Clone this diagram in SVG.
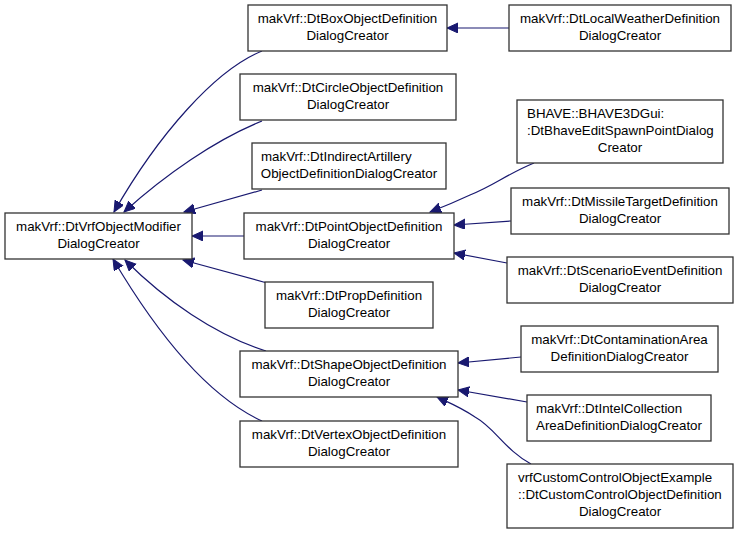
<svg xmlns="http://www.w3.org/2000/svg" width="739" height="535" viewBox="0 0 739 535">
<defs>
<marker id="arr" markerUnits="userSpaceOnUse" markerWidth="12" markerHeight="11" refX="11" refY="5" orient="auto">
<path d="M0,0 L11,5 L0,10 z" fill="#191970" stroke="#191970" stroke-width="1"/>
</marker>
<style>
rect{fill:#fff;stroke:#333;stroke-width:1.3}
text{font-family:"Liberation Sans",Arial,sans-serif;font-size:13.33px;fill:#000}
.m{text-anchor:middle}
.s{text-anchor:start}
#edges path{fill:none;stroke:#191970;stroke-width:1.2;marker-end:url(#arr)}
</style>
</defs>
<rect x="0" y="0" width="739" height="535" style="fill:#fff;stroke:none"/>
<g id="edges">
<path d="M509,28 L447,28"/>
<path d="M262,51 C215,70 158,135 114,212"/>
<path d="M262,121 C215,140 165,175 124,212"/>
<path d="M262,190 L184,212"/>
<path d="M244,236 L192,236"/>
<path d="M267,283 L183,260"/>
<path d="M266,351 C215,335 165,300 125,260"/>
<path d="M262,421 C205,395 155,330 113,259"/>
<path d="M534,163 C505,175 495,185 470,195 C455,202 443,207 430,212"/>
<path d="M511,221 L454,225"/>
<path d="M507,263 L454,253"/>
<path d="M521,357 L458,363"/>
<path d="M527,402 L458,390"/>
<path d="M531,464 C505,450 495,428 475,417 C462,408 450,403 437,397"/>
</g>
<g id="n0"><rect x="5" y="213" width="187" height="46"/><text class="m" x="98.5" y="231">makVrf::DtVrfObjectModifier</text><text class="m" x="98.5" y="248">DialogCreator</text></g>
<g id="nBox"><rect x="248" y="5" width="199" height="46"/><text class="m" x="347.5" y="23">makVrf::DtBoxObjectDefinition</text><text class="m" x="347.5" y="40">DialogCreator</text></g>
<g id="nLocalWeather"><rect x="509" y="5" width="222" height="46"/><text class="m" x="620" y="23">makVrf::DtLocalWeatherDefinition</text><text class="m" x="620" y="40">DialogCreator</text></g>
<g id="nCircle"><rect x="240" y="74" width="216" height="46"/><text class="m" x="348" y="92">makVrf::DtCircleObjectDefinition</text><text class="m" x="348" y="109">DialogCreator</text></g>
<g id="nIndirect"><rect x="252" y="143" width="194" height="46"/><text class="s" x="261" y="161">makVrf::DtIndirectArtillery</text><text class="m" x="349" y="178">ObjectDefinitionDialogCreator</text></g>
<g id="nPoint"><rect x="244" y="213" width="210" height="46"/><text class="m" x="349" y="231">makVrf::DtPointObjectDefinition</text><text class="m" x="349" y="248">DialogCreator</text></g>
<g id="nProp"><rect x="265" y="282" width="168" height="46"/><text class="m" x="349" y="300">makVrf::DtPropDefinition</text><text class="m" x="349" y="317">DialogCreator</text></g>
<g id="nShape"><rect x="240" y="351" width="218" height="46"/><text class="m" x="349" y="369">makVrf::DtShapeObjectDefinition</text><text class="m" x="349" y="386">DialogCreator</text></g>
<g id="nVertex"><rect x="240" y="421" width="218" height="46"/><text class="m" x="349" y="439">makVrf::DtVertexObjectDefinition</text><text class="m" x="349" y="456">DialogCreator</text></g>
<g id="nBhave"><rect x="517" y="100" width="206" height="63"/><text class="s" x="527" y="118">BHAVE::BHAVE3DGui:</text><text class="s" x="527" y="135">:DtBhaveEditSpawnPointDialog</text><text class="m" x="620" y="152">Creator</text></g>
<g id="nMissile"><rect x="511" y="188" width="218" height="46"/><text class="m" x="620" y="206">makVrf::DtMissileTargetDefinition</text><text class="m" x="620" y="223">DialogCreator</text></g>
<g id="nScenario"><rect x="507" y="257" width="226" height="46"/><text class="m" x="620" y="275">makVrf::DtScenarioEventDefinition</text><text class="m" x="620" y="292">DialogCreator</text></g>
<g id="nContamination"><rect x="521" y="326" width="197" height="46"/><text class="m" x="619.5" y="344">makVrf::DtContaminationArea</text><text class="m" x="619.5" y="361">DefinitionDialogCreator</text></g>
<g id="nIntel"><rect x="527" y="395" width="184" height="46"/><text class="s" x="536" y="413">makVrf::DtIntelCollection</text><text class="m" x="619" y="430">AreaDefinitionDialogCreator</text></g>
<g id="nCustom"><rect x="507" y="464" width="226" height="64"/><text class="s" x="518" y="482">vrfCustomControlObjectExample</text><text class="s" x="518" y="499">::DtCustomControlObjectDefinition</text><text class="m" x="620" y="516">DialogCreator</text></g>
</svg>
